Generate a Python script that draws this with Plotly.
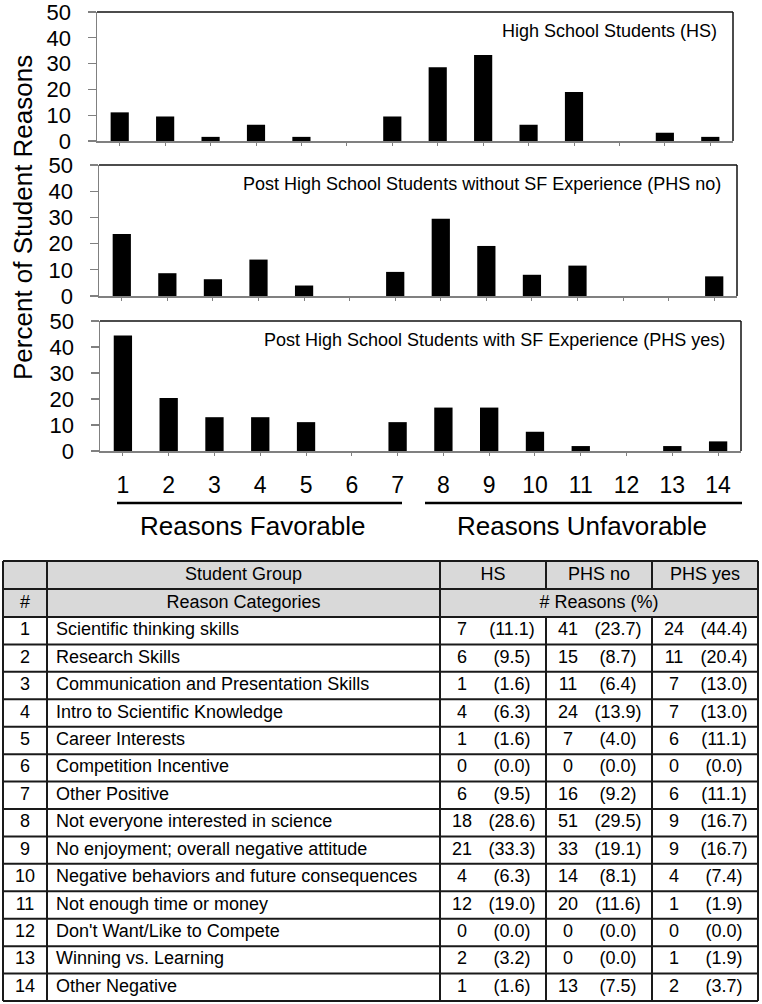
import plotly.graph_objects as go

# ---------------- data ----------------
categories = list(range(1, 15))
reasons = [
    "Scientific thinking skills",
    "Research Skills",
    "Communication and Presentation Skills",
    "Intro to Scientific Knowledge",
    "Career Interests",
    "Competition Incentive",
    "Other Positive",
    "Not everyone interested in science",
    "No enjoyment; overall negative attitude",
    "Negative behaviors and future consequences",
    "Not enough time or money",
    "Don't Want/Like to Compete",
    "Winning vs. Learning",
    "Other Negative",
]
hs_counts = [7, 6, 1, 4, 1, 0, 6, 18, 21, 4, 12, 0, 2, 1]
hs_pct = [11.1, 9.5, 1.6, 6.3, 1.6, 0.0, 9.5, 28.6, 33.3, 6.3, 19.0, 0.0, 3.2, 1.6]
phs_no_counts = [41, 15, 11, 24, 7, 0, 16, 51, 33, 14, 20, 0, 0, 13]
phs_no_pct = [23.7, 8.7, 6.4, 13.9, 4.0, 0.0, 9.2, 29.5, 19.1, 8.1, 11.6, 0.0, 0.0, 7.5]
phs_yes_counts = [24, 11, 7, 7, 6, 0, 6, 9, 9, 4, 1, 0, 1, 2]
phs_yes_pct = [44.4, 20.4, 13.0, 13.0, 11.1, 0.0, 11.1, 16.7, 16.7, 7.4, 1.9, 0.0, 1.9, 3.7]
panel_titles = [
    "High School Students (HS)",
    "Post High School Students without SF Experience (PHS no)",
    "Post High School Students with SF Experience (PHS yes)",
]
group_labels = ["HS", "PHS no", "PHS yes"]
y_ticks = [0, 10, 20, 30, 40, 50]
y_title = "Percent of Student Reasons"
bracket_labels = ["Reasons Favorable", "Reasons Unfavorable"]
header_row1 = "Student Group"
header_row2 = ["#", "Reason Categories", "# Reasons (%)"]

# ---------------- layout constants ----------------
W, H = 762, 1004
FONT = "Liberation Sans, Arial, sans-serif"
AXGREY = "#808080"

def px_x(v):
    return v / W

def px_y(v):
    return 1 - v / H

# panel pixel boxes: (left, right, top, bottom)
panels = [(97, 733, 12, 141), (99, 737, 165, 296), (100, 741, 321, 451)]
series = [hs_pct, phs_no_pct, phs_yes_pct]

fig = go.Figure()
layout = dict(
    width=W, height=H, margin=dict(l=0, r=0, t=0, b=0, pad=0, autoexpand=False),
    paper_bgcolor="white", plot_bgcolor="white", showlegend=False,
    font=dict(family=FONT, color="black"), hovermode=False,
)
shapes = []
annotations = []

for i, ((l, r, t, b), vals, title) in enumerate(zip(panels, series, panel_titles)):
    n = "" if i == 0 else str(i + 1)
    fig.add_trace(go.Bar(
        x=categories, y=vals, width=0.4,
        marker=dict(color="black", line=dict(width=0)),
        xaxis="x" + n, yaxis="y" + n, hoverinfo="skip",
    ))
    layout["xaxis" + n] = dict(
        domain=[px_x(l), px_x(r)], anchor="y" + n, range=[0.5, 14.5],
        tickmode="array", tickvals=categories, ticktext=[str(c) for c in categories],
        showticklabels=(i == 2), ticks="outside", ticklen=3, tickcolor=AXGREY,
        tickwidth=1, showline=True, linecolor=AXGREY, linewidth=1.5,
        showgrid=False, zeroline=False, fixedrange=True, automargin=False,
        tickfont=dict(size=23, family=FONT, color="black"),
        ticklabelstandoff=10, ticklabeloverflow="allow",
    )
    layout["yaxis" + n] = dict(
        domain=[px_y(b), px_y(t)], anchor="x" + n, range=[0, 50],
        tickmode="array", tickvals=y_ticks, ticks="outside", ticklen=8,
        tickcolor=AXGREY, tickwidth=1.2, showline=True, linecolor=AXGREY,
        linewidth=1.5, showgrid=False, zeroline=False, fixedrange=True,
        automargin=False, ticklabeloverflow="allow",
        tickfont=dict(size=22, family=FONT, color="black"),
        ticklabelstandoff=12,
    )
    xr, yr = "x" + n + " domain", "y" + n + " domain"
    shapes.append(dict(type="line", xref=xr, yref=yr, x0=0, x1=1, y0=1, y1=1,
                       line=dict(color="#111", width=1.5)))
    shapes.append(dict(type="line", xref=xr, yref=yr, x0=1, x1=1, y0=0, y1=1,
                       line=dict(color="#111", width=1.5)))
    annotations.append(dict(text=title, xref=xr, yref=yr, x=1, y=1,
                            xanchor="right", yanchor="middle", xshift=-14, yshift=-19,
                            showarrow=False, font=dict(size=18, family=FONT, color="black")))

# y axis title
annotations.append(dict(text=y_title, xref="paper", yref="paper", x=px_x(23), y=px_y(218),
                        textangle=-90, showarrow=False, xanchor="center", yanchor="middle",
                        font=dict(size=26, family=FONT, color="black")))

# favorable / unfavorable brackets
for (x0, x1), cx, lab in zip([(117, 402), (425, 742)], [252, 582], bracket_labels):
    shapes.append(dict(type="line", xref="paper", yref="paper",
                       x0=px_x(x0), x1=px_x(x1), y0=px_y(503), y1=px_y(503),
                       line=dict(color="black", width=2.5)))
    annotations.append(dict(text=lab, xref="paper", yref="paper",
                            x=px_x(cx), y=px_y(526), showarrow=False,
                            xanchor="center", yanchor="middle",
                            font=dict(size=26, family=FONT, color="black")))

# ---------------- table (drawn on a pixel-scaled helper axis) ----------------
layout["xaxis4"] = dict(domain=[0, 1], anchor="y4", range=[0, W], visible=False,
                        fixedrange=True, automargin=False)
layout["yaxis4"] = dict(domain=[0, (H - 556) / H], anchor="x4", range=[H, 556],
                        visible=False, fixedrange=True, automargin=False)

col_edges = [3, 47, 440, 546, 652, 758]
hdr_edges = [561, 589, 617]
row_h = 27.43
row_edges = [617 + k * row_h for k in range(len(reasons) + 1)]
tbl_bottom = row_edges[-1]
LINE = dict(color="#1a1a1a", width=2)

# header fill
shapes.append(dict(type="rect", xref="x4", yref="y4", x0=col_edges[0], x1=col_edges[-1],
                   y0=hdr_edges[0], y1=hdr_edges[2], fillcolor="#d9d9d9",
                   line=dict(width=0), layer="below"))
# horizontal lines
for yv in hdr_edges + row_edges[1:]:
    shapes.append(dict(type="line", xref="x4", yref="y4", x0=col_edges[0], x1=col_edges[-1],
                       y0=yv, y1=yv, line=LINE))
# vertical lines
for xv in [col_edges[0], col_edges[1], col_edges[2], col_edges[5]]:
    shapes.append(dict(type="line", xref="x4", yref="y4", x0=xv, x1=xv,
                       y0=hdr_edges[0], y1=tbl_bottom, line=LINE))
for xv in [col_edges[3], col_edges[4]]:
    shapes.append(dict(type="line", xref="x4", yref="y4", x0=xv, x1=xv,
                       y0=hdr_edges[0], y1=hdr_edges[1], line=LINE))
    shapes.append(dict(type="line", xref="x4", yref="y4", x0=xv, x1=xv,
                       y0=hdr_edges[2], y1=tbl_bottom, line=LINE))

def text_trace(xs, ys, texts, pos="middle center"):
    fig.add_trace(go.Scatter(
        x=xs, y=ys, text=texts, mode="text", textposition=pos,
        textfont=dict(size=18, family=FONT, color="black"),
        xaxis="x4", yaxis="y4", hoverinfo="skip", cliponaxis=False,
    ))

h1 = (hdr_edges[0] + hdr_edges[1]) / 2
h2 = (hdr_edges[1] + hdr_edges[2]) / 2
text_trace([(col_edges[1] + col_edges[2]) / 2] + [(col_edges[k] + col_edges[k + 1]) / 2 for k in (2, 3, 4)],
           [h1] * 4, [header_row1] + group_labels)
text_trace([(col_edges[0] + col_edges[1]) / 2, (col_edges[1] + col_edges[2]) / 2,
            (col_edges[2] + col_edges[5]) / 2], [h2] * 3, header_row2)

row_centers = [(row_edges[k] + row_edges[k + 1]) / 2 for k in range(len(reasons))]
text_trace([(col_edges[0] + col_edges[1]) / 2] * len(categories), row_centers,
           [str(c) for c in categories])
text_trace([col_edges[1] + 9] * len(reasons), row_centers, reasons, pos="middle right")
for k, (cnts, pcts) in enumerate([(hs_counts, hs_pct), (phs_no_counts, phs_no_pct),
                                  (phs_yes_counts, phs_yes_pct)]):
    left = col_edges[2 + k]
    text_trace([left + 22] * len(cnts), row_centers, [str(c) for c in cnts])
    text_trace([left + 72] * len(pcts), row_centers, [f"({p:.1f})" for p in pcts])

layout["shapes"] = shapes
layout["annotations"] = annotations
fig.update_layout(**layout)
fig.write_html(
    "out.html",
    config={"displayModeBar": False, "staticPlot": True},
    post_script="document.body.style.margin='0';document.body.style.overflow='hidden';",
)
